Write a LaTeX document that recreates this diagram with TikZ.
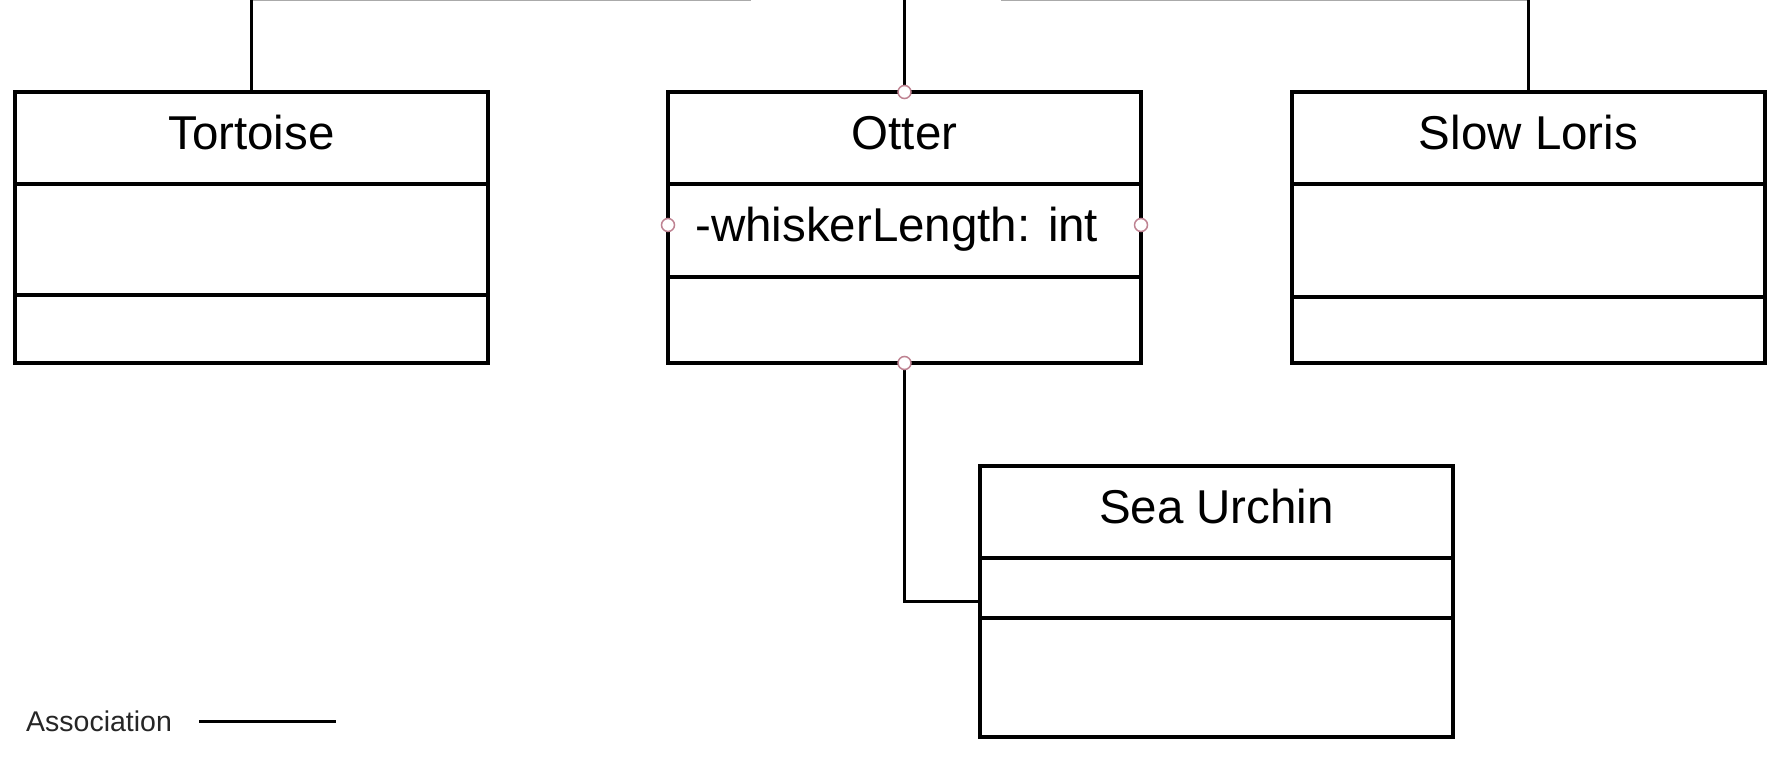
\documentclass[tikz,border=0pt]{standalone}
\usepackage{fontspec}
\setmainfont{Liberation Sans}
\definecolor{pinkring}{RGB}{190,130,145}
\definecolor{topgray}{RGB}{170,170,170}
\begin{document}
\begin{tikzpicture}[x=1pt,y=-1pt,
  classbox/.style={draw=black,line width=3.9pt,fill=white,minimum width=473pt,minimum height=271pt,inner sep=0pt,outer sep=0pt,anchor=north west},
  divider/.style={line width=3.9pt,black},
  conn/.style={line width=3.3pt,black},
  ctext/.style={font=\fontsize{47.5}{52}\selectfont,inner sep=0pt,anchor=base},
  port/.style={circle,draw=pinkring,fill=white,line width=1.5pt,minimum size=13pt,inner sep=0pt}]
\useasboundingbox (0,0) rectangle (1785,762);
\fill[white] (0,0) rectangle (1785,762);
% top bus (cut off by the image edge)
\coordinate (busL) at (251.6,0);
\coordinate (busLe) at (751,0);
\coordinate (busR) at (1001,0);
\coordinate (busRe) at (1528.5,0);
\coordinate (busM) at (904.5,-2);
\draw[topgray,line width=2pt] ([yshift=-0.2pt]busL) -- ([yshift=-0.2pt]busLe);
\draw[topgray,line width=2pt] ([yshift=-0.2pt]busR) -- ([yshift=-0.2pt]busRe);
% boxes
\node[classbox] (tortoise) at (15,92) {};
\node[classbox] (otter) at (668,92) {};
\node[classbox] (loris) at (1292,92) {};
\node[classbox] (urchin) at (980,466) {};
% dividers
\draw[divider] (15,184) -- (488,184);
\draw[divider] (15,295) -- (488,295);
\draw[divider] (668,184) -- (1141,184);
\draw[divider] (668,277) -- (1141,277);
\draw[divider] (1292,184) -- (1765,184);
\draw[divider] (1292,297) -- (1765,297);
\draw[divider] (980,558) -- (1453,558);
\draw[divider] (980,618) -- (1453,618);
% texts
\node[ctext] (tortoiseName) at (251.5,150) {Tortoise};
\node[ctext] (otterName) at (904.5,150) {Otter};
\node[ctext] (lorisName) at (1528.5,150) {Slow Loris};
\node[ctext] (urchinName) at (1216.5,523) {Sea Urchin};
\node[ctext,anchor=base west] (otterAttr) at (695,241) {-whiskerLength: int};
% connectors
\draw[conn] (tortoise.north) -- (tortoise.north |- busM);
\draw[conn] (loris.north) -- (loris.north |- busM);
\draw[conn] (otter.north) -- (busM);
\coordinate (urchinIn) at (980,601.5);
\draw[conn] (otter.south) |- (urchinIn);
% ports on the selected Otter box
\node[port] (p1) at (otter.north) {};
\node[port] (p2) at (otter.south) {};
\node[port] (p3) at (668,225) {};
\node[port] (p4) at (1141,225) {};
% legend
\node[font=\fontsize{28.5}{32}\selectfont,inner sep=0pt,anchor=base west,text=black!85] (legendText) at (26,731) {Association};
\coordinate (legA) at (199,721.5);
\coordinate (legB) at (336,721.5);
\draw[conn,line width=2.8pt] (legA) -- (legB);
\end{tikzpicture}
\end{document}
